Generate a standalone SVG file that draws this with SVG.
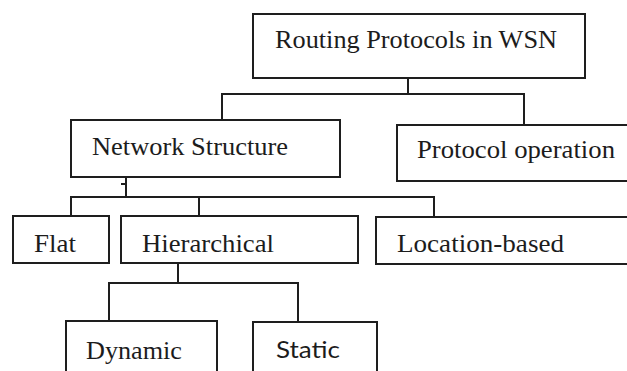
<svg xmlns="http://www.w3.org/2000/svg" width="627" height="371" viewBox="0 0 627 371">
  <style>
    .box { fill: #ffffff; stroke: #1e1e1e; stroke-width: 2; }
    .lnk { fill: none; stroke: #1e1e1e; stroke-width: 2; }
    .t { font-family: "Liberation Serif", "Times New Roman", serif; font-size: 25px; fill: #1c1c1c; }
    .s { font-family: Lato, "Liberation Sans", sans-serif; font-size: 24px; fill: #1c1c1c; }
  </style>
  <rect width="627" height="371" fill="#ffffff"/>
  <g id="connectors">
    <path class="lnk" d="M408,78 V94 M222,120 V94 H524 V125"/>
    <path class="lnk" d="M126,177 V197 M121,184 H126 M71,216 V197 H434 V217 M199,197 V216"/>
    <path class="lnk" d="M178,263 V283 M109,321 V283 H298 V322"/>
  </g>
  <g id="root">
    <rect class="box" x="253" y="14" width="332" height="64"/>
    <text class="t" x="275" y="48" textLength="282" lengthAdjust="spacingAndGlyphs">Routing Protocols in WSN</text>
  </g>
  <g id="network-structure">
    <rect class="box" x="71" y="120" width="269" height="57"/>
    <text class="t" x="92" y="155" textLength="196" lengthAdjust="spacingAndGlyphs">Network Structure</text>
  </g>
  <g id="protocol-operation">
    <rect class="box" x="397" y="125" width="232" height="56"/>
    <text class="t" x="417" y="158" textLength="198" lengthAdjust="spacingAndGlyphs">Protocol operation</text>
  </g>
  <g id="flat">
    <rect class="box" x="13" y="216" width="96" height="47"/>
    <text class="t" x="34" y="252" textLength="42" lengthAdjust="spacingAndGlyphs">Flat</text>
  </g>
  <g id="hierarchical">
    <rect class="box" x="121" y="216" width="237" height="47"/>
    <text class="t" x="142" y="252" textLength="132" lengthAdjust="spacingAndGlyphs">Hierarchical</text>
  </g>
  <g id="location-based">
    <rect class="box" x="376" y="217" width="253" height="47"/>
    <text class="t" x="397" y="252" textLength="167" lengthAdjust="spacingAndGlyphs">Location-based</text>
  </g>
  <g id="dynamic">
    <rect class="box" x="66" y="321" width="151" height="60"/>
    <text class="t" x="86" y="359" textLength="96" lengthAdjust="spacingAndGlyphs">Dynamic</text>
  </g>
  <g id="static">
    <rect class="box" x="253" y="322" width="124" height="60"/>
    <text class="s" x="276" y="358" textLength="64" lengthAdjust="spacingAndGlyphs">Static</text>
  </g>
</svg>
